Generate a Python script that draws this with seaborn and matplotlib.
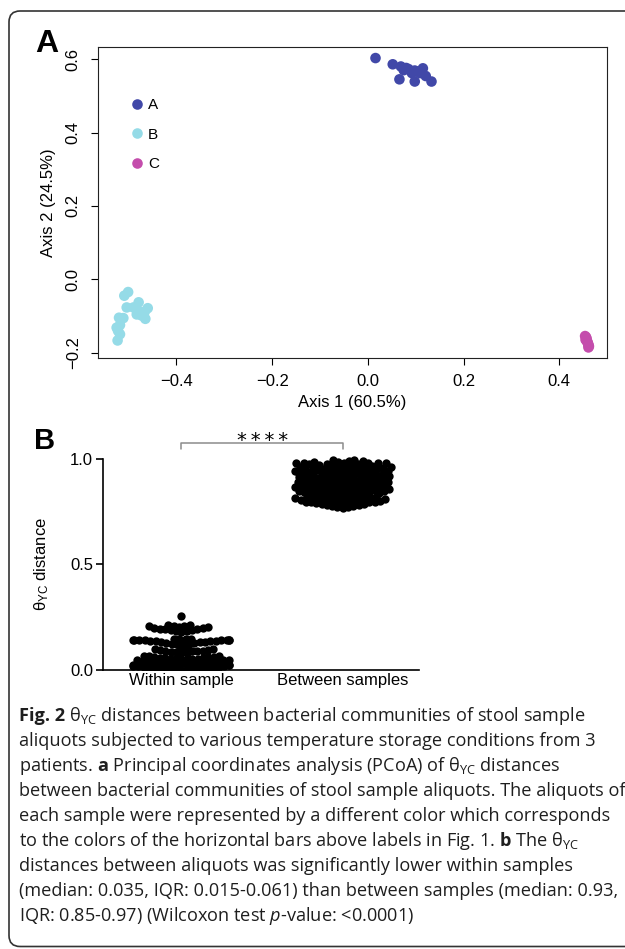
import numpy as np
import pandas as pd
import matplotlib
matplotlib.use('Agg')
import matplotlib.pyplot as plt
from matplotlib.patches import FancyBboxPatch
from matplotlib.transforms import IdentityTransform
import seaborn as sns
import seaborn.categorical as sns_cat

# ---- panel A: PCoA coordinates per sample
a_axis1 = [0.016, 0.052, 0.069, 0.075, 0.085, 0.092, 0.098, 0.115, 0.109, 0.121, 0.133, 0.098, 0.066, 0.104, 0.080]
a_axis2 = [0.603, 0.586, 0.580, 0.570, 0.573, 0.562, 0.569, 0.575, 0.562, 0.554, 0.539, 0.539, 0.545, 0.566, 0.576]
b_axis1 = [-0.501, -0.509, -0.504, -0.490, -0.479, -0.480, -0.466, -0.460, -0.465,
           -0.483, -0.473, -0.520, -0.511, -0.525, -0.518, -0.522, -0.518, -0.523]
b_axis2 = [-0.035, -0.045, -0.077, -0.077, -0.063, -0.086, -0.088, -0.079, -0.108,
           -0.096, -0.099, -0.105, -0.106, -0.132, -0.125, -0.141, -0.150, -0.167]
c_axis1 = [0.454, 0.456, 0.457, 0.455, 0.458, 0.459, 0.460, 0.461, 0.462, 0.461]
c_axis2 = [-0.155, -0.158, -0.162, -0.165, -0.168, -0.172, -0.175, -0.179, -0.183, -0.186]
sample_names = ['A', 'B', 'C']
sample_colors = ['#4148a8', '#95dbe7', '#c44dac']

# ---- panel B: theta_YC distances (value, number of dots at that value)
within_values = [0.002, 0.006, 0.010, 0.014, 0.018, 0.022, 0.026, 0.030, 0.034, 0.038,
                 0.042, 0.046, 0.050, 0.054, 0.058, 0.062, 0.066,
                 0.080, 0.084, 0.088, 0.092, 0.096, 0.100, 0.104,
                 0.124, 0.128, 0.132, 0.136, 0.140, 0.144, 0.148,
                 0.182, 0.184, 0.186, 0.188, 0.190, 0.192, 0.194, 0.196, 0.198, 0.200,
                 0.202, 0.204, 0.206, 0.208, 0.210, 0.212, 0.214,
                 0.255]
within_counts = [4, 4, 4, 3, 3, 3, 3, 3, 3, 3,
                 3, 3, 3, 3, 3, 3, 3,
                 2, 2, 2, 2, 2, 2, 2,
                 3, 3, 3, 4, 4, 4, 4,
                 1, 1, 1, 1, 1, 1, 1, 1, 1, 1,
                 1, 1, 1, 1, 1, 1, 1,
                 1]
between_values = [0.765, 0.769, 0.773, 0.777, 0.781, 0.785, 0.789, 0.793, 0.797, 0.801,
                  0.805, 0.809, 0.813, 0.817, 0.821, 0.825, 0.829, 0.833, 0.837, 0.841,
                  0.845, 0.849, 0.853, 0.857, 0.861, 0.865, 0.869, 0.873, 0.877, 0.881,
                  0.885, 0.889, 0.893, 0.897, 0.901, 0.905, 0.909, 0.913, 0.917, 0.921,
                  0.925, 0.929, 0.933, 0.937, 0.941, 0.945, 0.949, 0.953, 0.957, 0.961,
                  0.965, 0.969, 0.973, 0.977, 0.981, 0.985, 0.989, 0.993]
between_counts = [1, 1, 1, 2, 2, 2, 2, 3, 3, 3,
                  3, 3, 3, 3, 3, 2, 2, 2, 3, 3,
                  3, 3, 3, 3, 3, 3, 3, 3, 3, 3,
                  3, 3, 3, 3, 3, 3, 3, 3, 3, 3,
                  3, 3, 3, 3, 3, 3, 3, 3, 3, 3,
                  3, 3, 3, 3, 3, 2, 2, 2]
group_names = ['Within sample', 'Between samples']

caption_first = ('Fig. 2', r' θ$_{\mathrm{YC}}$ distances between bacterial communities of stool sample')
caption_lines = [
    "aliquots subjected to various temperature storage conditions from 3",
    r"patients. $\mathbf{a}$ Principal coordinates analysis (PCoA) of θ$_{\mathrm{YC}}$ distances",
    "between bacterial communities of stool sample aliquots. The aliquots of",
    "each sample were represented by a different color which corresponds",
    r"to the colors of the horizontal bars above labels in Fig. 1. $\mathbf{b}$ The θ$_{\mathrm{YC}}$",
    "distances between aliquots was significantly lower within samples",
    "(median: 0.035, IQR: 0.015-0.061) than between samples (median: 0.93,",
    r"IQR: 0.85-0.97) (Wilcoxon test $\mathit{p}$-value: <0.0001)",
]

pcoa = pd.DataFrame({
    'axis1': a_axis1 + b_axis1 + c_axis1,
    'axis2': a_axis2 + b_axis2 + c_axis2,
    'sample': ['A'] * len(a_axis1) + ['B'] * len(b_axis1) + ['C'] * len(c_axis1),
})
distances = pd.DataFrame({
    'group': [group_names[0]] * sum(within_counts) + [group_names[1]] * sum(between_counts),
    'theta': np.concatenate([np.repeat(within_values, within_counts),
                             np.repeat(between_values, between_counts)]),
})

sns.set_style('ticks')
plt.rcParams['font.family'] = ['Liberation Sans', 'DejaVu Sans']
plt.rcParams['mathtext.fontset'] = 'custom'
plt.rcParams['mathtext.rm'] = 'Open Sans'
plt.rcParams['mathtext.bf'] = 'Open Sans:bold'
plt.rcParams['mathtext.it'] = 'Open Sans:italic'
plt.rcParams['mathtext.sf'] = 'Liberation Sans'
plt.rcParams['text.color'] = 'black'
plt.rcParams['axes.labelcolor'] = 'black'
plt.rcParams['xtick.color'] = 'black'
plt.rcParams['ytick.color'] = 'black'


# Prism packs its dot columns narrower than seaborn and lets dense dots overlap
class PrismSwarm(sns_cat.Beeswarm):
    def __init__(self, width=0.8, **kws):
        super().__init__(width=width * 0.74, **kws)

    def beeswarm(self, orig_xyr):
        xyr = orig_xyr.copy()
        xyr[:, 2] *= 0.62
        return super().beeswarm(xyr)


sns_cat.Beeswarm = PrismSwarm

fig = plt.figure(figsize=(6.25, 9.49), dpi=100)

# ***************************************************************************
# A: PCoA scatter
ax_a = fig.add_axes([0.156, 0.6225, 0.8146, 0.3283])
sns.scatterplot(data=pcoa, x='axis1', y='axis2', hue='sample', hue_order=sample_names,
                palette=sample_colors, s=58, linewidth=0, ax=ax_a)
ax_a.set_xlim(-0.565, 0.499)
ax_a.set_ylim(-0.2155, 0.634)
ax_a.set_xticks([-0.4, -0.2, 0.0, 0.2, 0.4])
ax_a.set_xticklabels(['\u22120.4', '\u22120.2', '0.0', '0.2', '0.4'])
ax_a.set_yticks([-0.2, 0.0, 0.2, 0.4, 0.6])
ax_a.set_yticklabels(['\u22120.2', '0.0', '0.2', '0.4', '0.6'], rotation=90, va='center')
ax_a.tick_params(direction='out', length=5, width=0.8, labelsize=12)
ax_a.tick_params(axis='x', pad=6)
ax_a.tick_params(axis='y', pad=7)
for side in ['top', 'right', 'bottom', 'left']:
    ax_a.spines[side].set_visible(True)
    ax_a.spines[side].set_linewidth(0.8)
    ax_a.spines[side].set_color('#222222')
ax_a.set_xlabel('Axis 1 (60.5%)', fontsize=12, labelpad=5)
ax_a.set_ylabel('Axis 2 (24.5%)', fontsize=12, labelpad=7)
sns.move_legend(ax_a, 'upper left', bbox_to_anchor=(0.063, 0.834), frameon=False, title=None,
                fontsize=11, handlelength=1.0, handletextpad=0.2, labelspacing=1.0,
                borderpad=0, borderaxespad=0)

# ***************************************************************************
# B: swarm of distances
ax_b = fig.add_axes([0.1645, 0.294, 0.5065, 0.2428])
sns.swarmplot(data=distances, x='group', y='theta', order=group_names, color='black',
              size=6.0, linewidth=0, warn_thresh=1, ax=ax_b)
ax_b.set_xlim(-0.486, 1.474)
ax_b.set_ylim(0, 1.09)
ax_b.spines['top'].set_visible(False)
ax_b.spines['right'].set_visible(False)
ax_b.spines['left'].set_bounds(0, 1)
for side in ['left', 'bottom']:
    ax_b.spines[side].set_linewidth(1.2)
    ax_b.spines[side].set_color('black')
ax_b.set_yticks([0.0, 0.5, 1.0])
ax_b.set_yticklabels(['0.0', '0.5', '1.0'])
ax_b.tick_params(axis='y', direction='out', length=5, width=1.2, labelsize=12, pad=2)
ax_b.tick_params(axis='x', length=0, labelsize=12, pad=2)
ax_b.set_xlabel('')
ax_b.set_ylabel('θ$_{\\mathsf{YC}}$ distance', fontsize=12)
ax_b.yaxis.set_label_coords(-0.165, 0.459)

# significance bracket
ax_b.plot([0, 0, 1, 1], [1.045, 1.075, 1.075, 1.045], color='#8c8c8c', lw=1.1, clip_on=False)
ax_b.text(0.5, 1.058, '*\u2009*\u2009*\u2009*', ha='center', va='baseline', fontsize=14,
          family=['DejaVu Sans'])

# panel letters
fig.text(0.056, 0.9455, 'A', fontsize=23, fontweight='bold', va='baseline')
fig.text(0.0544, 0.5266, 'B', fontsize=21, fontweight='bold', va='baseline')

# caption: bold "Fig. 2" lead-in, then plain lines
cap_size = 13.1
cap_x = 19 / 625
lead = fig.text(cap_x, 1 - 721 / 949, caption_first[0], fontsize=cap_size, family='Open Sans',
                fontweight='bold', color='#1e1e1e', va='baseline')
renderer = fig.canvas.get_renderer()
lead_right = lead.get_window_extent(renderer).x1 / fig.bbox.width
fig.text(lead_right, 1 - 721 / 949, caption_first[1], fontsize=cap_size, family='Open Sans',
         color='#1e1e1e', va='baseline')
for i, line in enumerate(caption_lines):
    fig.text(cap_x, 1 - (746 + 25 * i) / 949, line, fontsize=cap_size, family='Open Sans',
             color='#1e1e1e', va='baseline')

# rounded frame around the whole figure (runs off the right edge like the source)
frame = FancyBboxPatch((9, 2.5), 700, 935.5, boxstyle='round,pad=0,rounding_size=11',
                       transform=IdentityTransform(), fill=False, edgecolor='#333333', lw=1.2)
fig.add_artist(frame)

fig.savefig('out.png', dpi=100)
